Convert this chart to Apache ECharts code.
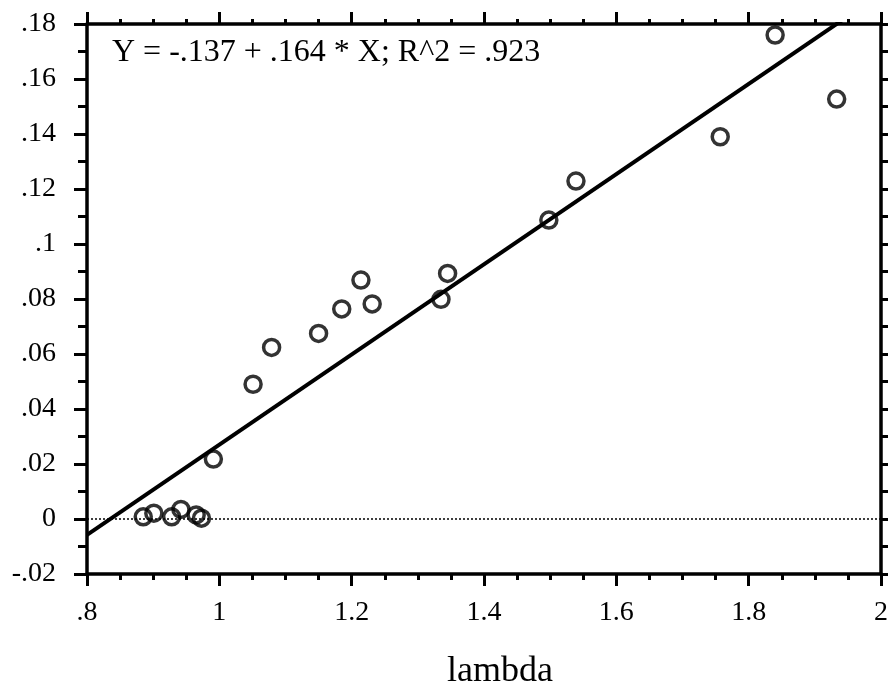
<!DOCTYPE html>
<html>
<head>
<meta charset="utf-8">
<script src="https://cdn.jsdelivr.net/npm/echarts@6/dist/echarts.min.js"></script>
<style>
html,body{margin:0;padding:0;background:#fff;}
#chart{width:891px;height:692px;}
</style>
</head>
<body>
<div id="chart"></div>
<script>
// Data
const lambdaX = [0.885, 0.901, 0.928, 0.942, 0.965, 0.973, 0.991, 1.051, 1.079, 1.150, 1.185, 1.214, 1.231, 1.335, 1.345, 1.498, 1.539, 1.757, 1.840, 1.933];
const valuesY = [0.0008, 0.0021, 0.0008, 0.0035, 0.0015, 0.0003, 0.0218, 0.049, 0.0624, 0.0675, 0.0764, 0.0869, 0.0782, 0.0799, 0.0893, 0.1087, 0.1229, 0.139, 0.176, 0.1527];
const fitIntercept = -0.137;
const fitSlope = 0.164;
const equationText = 'Y = -.137 + .164 * X; R^2 = .923';
const xAxisTitle = 'lambda';
const xRange = [0.8, 2];
const yRange = [-0.02, 0.18];

const points = lambdaX.map((x, i) => [x, valuesY[i]]);
const fitLine = xRange.map(x => [x, fitIntercept + fitSlope * x]);
const zeroLine = xRange.map(x => [x, 0]);

function fmt(v) {
  const s = Number(v.toFixed(3)).toString();
  return s.replace(/^(-?)0\./, '$1.');
}

const FONT = '"Liberation Serif", "DejaVu Serif", serif';
const chart = echarts.init(document.getElementById('chart'));
const axisLine = { show: true, onZero: false, lineStyle: { color: '#000', width: 3.5 } };

chart.setOption({
  animation: false,
  backgroundColor: '#fff',
  grid: { left: 87, right: 8, top: 24, bottom: 118, containLabel: false },
  xAxis: [
    {
      type: 'value', position: 'bottom', min: xRange[0], max: xRange[1], interval: 0.2,
      axisLine: axisLine,
      axisTick: { show: true, inside: false, length: 12, lineStyle: { color: '#000', width: 3 } },
      minorTick: { show: true, splitNumber: 4, length: 6, lineStyle: { color: '#000', width: 3 } },
      splitLine: { show: false },
      axisLabel: { formatter: fmt, color: '#000', fontFamily: FONT, fontSize: 28, margin: 25 }
    },
    {
      type: 'value', position: 'top', min: xRange[0], max: xRange[1], interval: 0.2,
      axisLine: axisLine,
      axisTick: { show: true, inside: false, length: 12, lineStyle: { color: '#000', width: 3 } },
      minorTick: { show: true, splitNumber: 4, length: 5, lineStyle: { color: '#000', width: 3 } },
      splitLine: { show: false },
      axisLabel: { show: false }
    }
  ],
  yAxis: [
    {
      type: 'value', position: 'left', min: yRange[0], max: yRange[1], interval: 0.02,
      axisLine: axisLine,
      axisTick: { show: true, inside: false, length: 13, lineStyle: { color: '#000', width: 3 } },
      minorTick: { show: true, splitNumber: 2, length: 9, lineStyle: { color: '#000', width: 3 } },
      splitLine: { show: false },
      axisLabel: { formatter: fmt, color: '#000', fontFamily: FONT, fontSize: 28, margin: 31 }
    },
    {
      type: 'value', position: 'right', min: yRange[0], max: yRange[1], interval: 0.01,
      axisLine: axisLine,
      axisTick: { show: true, inside: false, length: 7, lineStyle: { color: '#000', width: 3 } },
      splitLine: { show: false },
      axisLabel: { show: false }
    }
  ],
  series: [
    {
      type: 'line', data: zeroLine, symbol: 'none', silent: true, z: 1,
      lineStyle: { color: '#000', width: 1.5, type: [2, 2] }
    },
    {
      type: 'line', data: fitLine, symbol: 'none', silent: true, clip: true, z: 2,
      lineStyle: { color: '#000', width: 4 }
    },
    {
      type: 'scatter', data: points, symbol: 'circle', symbolSize: 16, z: 3,
      itemStyle: { color: 'rgba(255,255,255,0)', borderColor: '#000', borderWidth: 3.5 }
    }
  ],
  graphic: [
    {
      type: 'text', left: 112, top: 37,
      style: { text: equationText, fill: '#000', font: '32px ' + FONT }
    },
    {
      type: 'text', x: 500, y: 672,
      style: { text: xAxisTitle, fill: '#000', font: '36px ' + FONT, textAlign: 'center', textVerticalAlign: 'middle' }
    }
  ]
});
</script>
</body>
</html>
